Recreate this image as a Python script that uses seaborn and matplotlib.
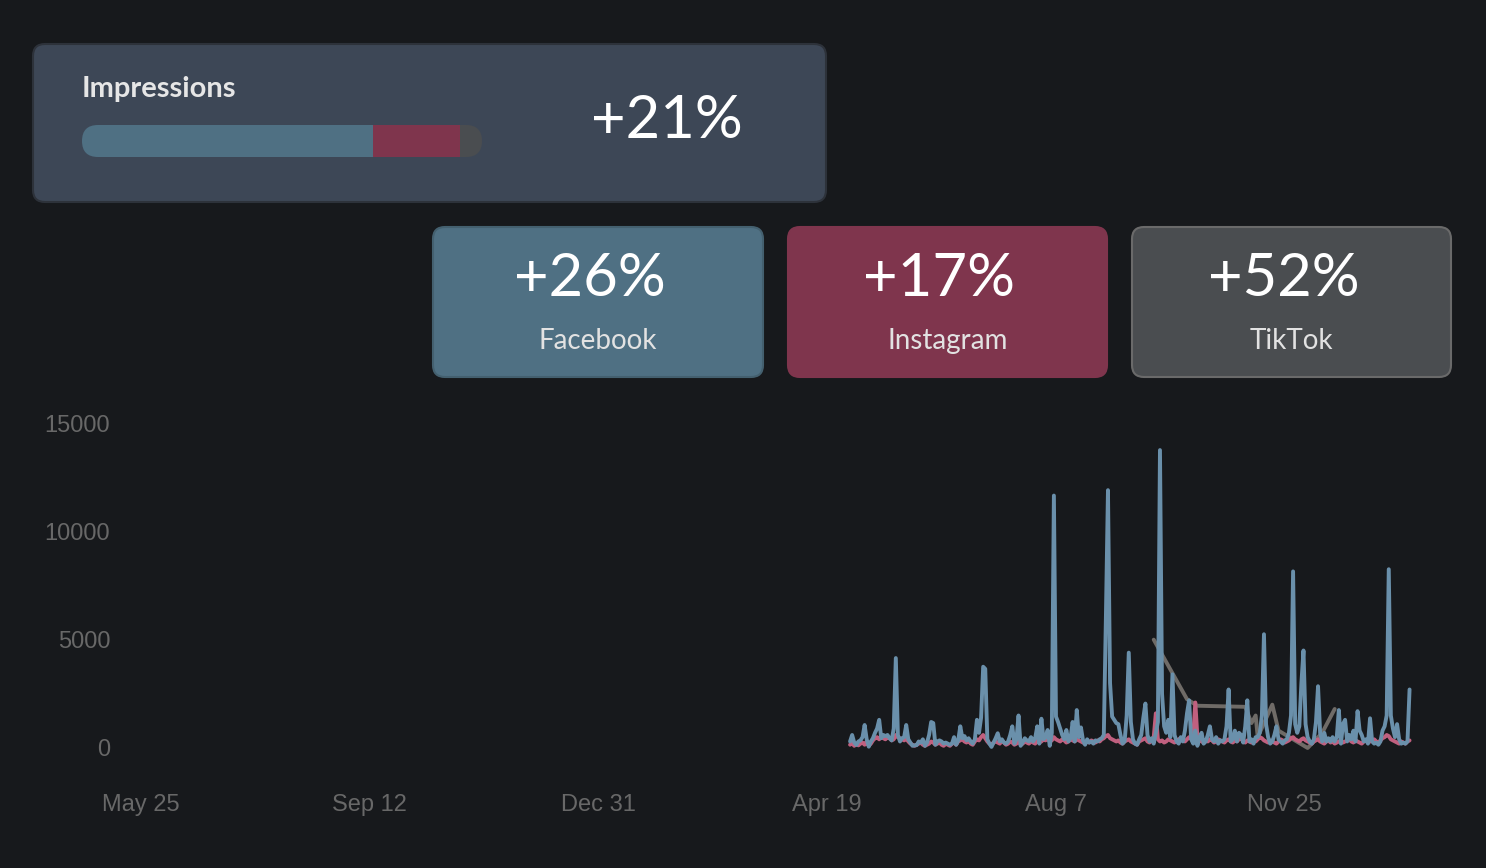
import numpy as np
import pandas as pd
import seaborn as sns
import matplotlib
matplotlib.use('Agg')
import matplotlib.pyplot as plt
import matplotlib.dates as mdates
from matplotlib.patches import FancyBboxPatch

# ---- card data
impressions_growth = '+21%'
platforms = ['Facebook', 'Instagram', 'TikTok']
platform_growth = ['+26%', '+17%', '+52%']
bar_shares = [0.728, 0.218, 0.054]   # share of impressions per platform

# ---- daily impressions, 2020-04-30 .. 2021-01-24
start_date = '2020-04-30'
facebook = [
    300, 600, 250, 140, 300, 350, 500, 1060, 400, 60,
    300, 450, 700, 900, 1300, 450, 600, 550, 600, 450,
    350, 900, 4150, 600, 300, 450, 500, 1060, 400, 250,
    100, 120, 130, 300, 250, 400, 100, 250, 600, 1200,
    1150, 150, 300, 350, 300, 200, 250, 200, 150, 200,
    500, 150, 350, 1000, 450, 550, 350, 450, 300, 200,
    400, 1300, 700, 1400, 3750, 3650, 400, 200, 50, 250,
    450, 680, 300, 400, 250, 200, 300, 600, 1000, 200,
    400, 1500, 100, 250, 450, 350, 300, 500, 300, 450,
    1000, 200, 1350, 400, 500, 830, 100, 700, 11650, 1450,
    1200, 900, 600, 400, 830, 300, 450, 1200, 300, 1750,
    500, 950, 350, 150, 400, 250, 300, 200, 350, 300,
    400, 450, 600, 6000, 11900, 3000, 1450, 1300, 1150, 1100,
    600, 200, 300, 1500, 4400, 1200, 400, 200, 150, 400,
    600, 1400, 2050, 600, 300, 450, 200, 700, 1200, 13750,
    2500, 1000, 700, 1300, 500, 3400, 600, 300, 200, 500,
    300, 800, 1600, 2200, 400, 200, 800, 100, 500, 700,
    200, 300, 600, 1000, 400, 300, 500, 200, 350, 300,
    400, 1000, 2700, 300, 400, 800, 300, 700, 600, 250,
    1000, 2200, 300, 400, 200, 500, 500, 700, 1500, 5250,
    1100, 500, 200, 300, 600, 1000, 400, 300, 200, 350,
    400, 700, 1500, 8150, 1100, 700, 1000, 3000, 4500, 1100,
    500, 300, 200, 400, 1200, 2850, 700, 300, 700, 300,
    450, 300, 500, 300, 500, 1750, 200, 1100, 1300, 300,
    600, 400, 800, 300, 1700, 800, 600, 300, 400, 200,
    1370, 300, 200, 250, 150, 300, 800, 1000, 1500, 8250,
    1500, 900, 500, 1100, 400, 200, 250, 200, 300, 2700,
]
instagram = [
    150, 250, 100, 180, 120, 200, 250, 150, 300, 100,
    200, 350, 450, 500, 400, 550, 450, 400, 500, 450,
    350, 400, 600, 500, 450, 400, 350, 450, 300, 200,
    150, 100, 150, 200, 250, 150, 100, 150, 200, 300,
    250, 150, 200, 250, 150, 100, 200, 150, 100, 200,
    250, 150, 300, 350, 400, 300, 250, 350, 200, 150,
    300, 400, 350, 500, 600, 450, 300, 200, 150, 250,
    300, 250, 200, 350, 250, 150, 200, 300, 250, 150,
    200, 350, 150, 200, 300, 250, 200, 300, 250, 200,
    350, 250, 300, 400, 350, 450, 300, 350, 500, 400,
    350, 300, 400, 350, 250, 300, 400, 350, 300, 400,
    350, 300, 250, 200, 300, 250, 350, 300, 250, 350,
    300, 400, 450, 550, 600, 450, 400, 350, 300, 350,
    250, 200, 300, 350, 400, 300, 250, 200, 150, 300,
    350, 400, 450, 300, 250, 350, 500, 1600, 400, 300,
    350, 250, 300, 400, 350, 300, 250, 350, 400, 450,
    350, 300, 400, 500, 450, 600, 2100, 500, 350, 300,
    250, 350, 300, 400, 350, 250, 300, 400, 350, 300,
    250, 350, 400, 300, 250, 350, 300, 400, 450, 300,
    250, 350, 300, 250, 350, 300, 400, 500, 450, 350,
    300, 250, 350, 300, 250, 200, 300, 400, 350, 250,
    300, 350, 450, 500, 400, 350, 300, 400, 450, 350,
    300, 250, 200, 300, 350, 400, 300, 250, 200, 300,
    350, 250, 300, 200, 250, 300, 350, 250, 300, 350,
    400, 300, 250, 350, 300, 250, 200, 300, 350, 250,
    300, 350, 400, 300, 250, 350, 450, 500, 600, 550,
    400, 350, 300, 250, 200, 300, 250, 200, 300, 350,
]
tiktok_dates = ['2020-09-23', '2020-10-09', '2020-10-14', '2020-11-06',
                '2020-11-09', '2020-11-11', '2020-11-12', '2020-11-19',
                '2020-11-22', '2020-12-06', '2020-12-13', '2020-12-19']
tiktok = [5000, 2250, 1950, 1900, 1150, 1500, 500, 2000, 800, 0, 700, 1800]

x_ticks = ['2019-05-25', '2019-09-12', '2019-12-31', '2020-04-19', '2020-08-07', '2020-11-25']
y_ticks = [0, 5000, 10000, 15000]

BG = '#17191c'
palette = {'Facebook': '#6a90ab', 'Instagram': '#c0607f', 'TikTok': '#6f6b67'}
card_colors = {'Facebook': '#4f7083', 'Instagram': '#7f354d', 'TikTok': '#4a4d50'}
card_edges = {'Facebook': '#44606f', 'Instagram': '#7f354d', 'TikTok': '#6a6a6a'}

days = pd.date_range(start_date, periods=len(facebook), freq='D')
df = pd.concat([
    pd.DataFrame({'date': days, 'value': facebook, 'platform': 'Facebook'}),
    pd.DataFrame({'date': days, 'value': instagram, 'platform': 'Instagram'}),
    pd.DataFrame({'date': pd.to_datetime(tiktok_dates), 'value': tiktok, 'platform': 'TikTok'}),
])

sns.set_theme(style='dark', rc={'figure.facecolor': BG, 'axes.facecolor': BG})
plt.rcParams['font.family'] = ['Liberation Sans', 'DejaVu Sans']

W, H = 1486, 868
fig = plt.figure(figsize=(W / 100, H / 100), dpi=100)

# ---- line chart
ax = fig.add_axes([120 / W, 1 - 753.4 / H, 1316.6 / W, (753.4 - 423) / H])
sns.lineplot(data=df, x='date', y='value', hue='platform',
             hue_order=['TikTok', 'Instagram', 'Facebook'], palette=palette,
             linewidth=2.8, legend=False, estimator=None, ax=ax)
ax.set_xlim(pd.Timestamp('2019-05-15'), pd.Timestamp('2021-02-06'))
ax.set_ylim(-250, 15000)
ax.set_xticks(pd.to_datetime(x_ticks))
ax.xaxis.set_major_formatter(mdates.DateFormatter('%b %-d'))
ax.set_yticks(y_ticks)
ax.set_xlabel('')
ax.set_ylabel('')
ax.grid(False)
for s in ax.spines.values():
    s.set_visible(False)
ax.tick_params(axis='both', length=0, labelsize=17, labelcolor='#686868')
ax.tick_params(axis='x', pad=29)
ax.tick_params(axis='y', pad=7)

# ---- cards overlay (pixel coordinates)
ov = fig.add_axes([0, 0, 1, 1])
ov.set_xlim(0, W)
ov.set_ylim(H, 0)
ov.axis('off')
ov.patch.set_alpha(0)

card_font = ['Lato', 'DejaVu Sans']

ov.add_patch(FancyBboxPatch((33, 44), 793, 158, boxstyle='round,pad=0,rounding_size=12',
                            facecolor='#3d4756', edgecolor='#2d323a', linewidth=1.5))
ov.text(82, 97, 'Impressions', fontsize=21, fontweight='bold', color='#e6e6e6',
        family=card_font, va='baseline', ha='left')
ov.text(667, 138, impressions_growth, fontsize=43, color='white',
        family=card_font, va='baseline', ha='center')

# progress bar with rounded ends
clip = FancyBboxPatch((82, 125), 400, 32, boxstyle='round,pad=0,rounding_size=16',
                      facecolor='none', edgecolor='none')
ov.add_patch(clip)
lefts = 82 + 400 * np.concatenate([[0], np.cumsum(bar_shares)[:-1]])
bars = ov.barh([141] * 3, np.array(bar_shares) * 400, left=lefts, height=32,
               color=[card_colors[p] for p in platforms], linewidth=0)
for b in bars:
    b.set_clip_path(clip)

card_x = [433, 788, 1132]
card_w = [330, 319, 319]
for p, g, x0, w in zip(platforms, platform_growth, card_x, card_w):
    ov.add_patch(FancyBboxPatch((x0, 227), w, 150, boxstyle='round,pad=0,rounding_size=12',
                                facecolor=card_colors[p], edgecolor=card_edges[p], linewidth=1.5))
    ov.text(x0 + w / 2 - 8, 296, g, fontsize=43, color='white',
            family=card_font, va='baseline', ha='center')
    ov.text(x0 + w / 2, 349, p, fontsize=20, color='#e2e2e2',
            family=card_font, va='baseline', ha='center')

fig.savefig('out.png', dpi=100, facecolor=BG)
